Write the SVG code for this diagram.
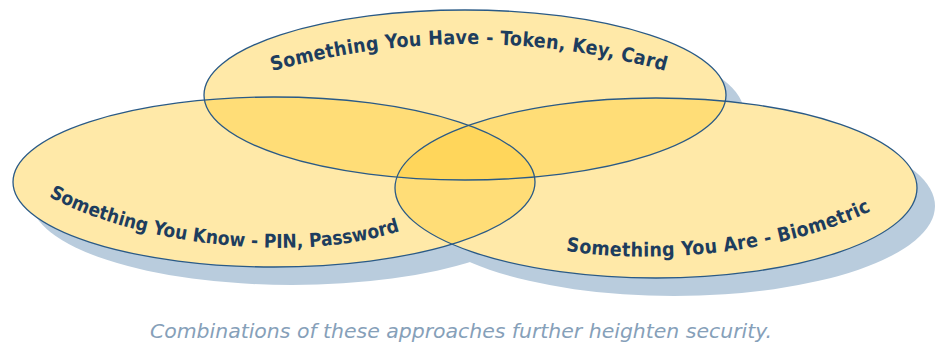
<svg xmlns="http://www.w3.org/2000/svg" width="935" height="347" viewBox="0 0 935 347">
<style>
.sh{fill:#b9ccdd}
.fl{fill:rgb(254,205,56);fill-opacity:0.44}
.st{fill:none;stroke:#2a5a86;stroke-width:1.3}
.lbl{font-family:"Liberation Sans Narrow","DejaVu Sans Condensed",sans-serif;font-size:19px;font-weight:bold;letter-spacing:0.3px;fill:#1d3d5e}
.cap{font-family:"Liberation Sans Narrow","DejaVu Sans Condensed",sans-serif;font-size:20px;font-style:italic;fill:#86a0b9}
</style>
<defs>
<path id="pTop" d="M262,74 Q469,14 676,74"/>
<path id="pLeft" d="M36,189 C120,242 300,270 414,226"/>
<path id="pRight" d="M552,248 C620,264 780,262 884,204"/>
</defs>
<g id="shadows">
<ellipse class="sh" cx="483" cy="113" rx="261" ry="85"/>
<ellipse class="sh" cx="292" cy="200" rx="261" ry="85"/>
<ellipse class="sh" cx="674" cy="206" rx="261" ry="90"/>
</g>
<g id="whitebase">
<ellipse cx="465" cy="95" rx="261" ry="85" fill="#fff"/>
<ellipse cx="274" cy="182" rx="261" ry="85" fill="#fff"/>
<ellipse cx="656" cy="188" rx="261" ry="90" fill="#fff"/>
</g>
<g id="have">
<ellipse class="fl" cx="465" cy="95" rx="261" ry="85"/>
</g>
<g id="know">
<ellipse class="fl" cx="274" cy="182" rx="261" ry="85"/>
</g>
<g id="are">
<ellipse class="fl" cx="656" cy="188" rx="261" ry="90"/>
</g>
<g id="outlines">
<ellipse class="st" cx="465" cy="95" rx="261" ry="85"/>
<ellipse class="st" cx="274" cy="182" rx="261" ry="85"/>
<ellipse class="st" cx="656" cy="188" rx="261" ry="90"/>
</g>
<g id="labels">
<text class="lbl" style="font-size:19.5px"><textPath href="#pTop" startOffset="50%" text-anchor="middle">Something You Have - Token, Key, Card</textPath></text>
<text class="lbl" style="letter-spacing:0px"><textPath href="#pLeft" startOffset="50%" text-anchor="middle">Something You Know - PIN, Password</textPath></text>
<text class="lbl" style="font-size:19.5px"><textPath href="#pRight" startOffset="50%" text-anchor="middle">Something You Are - Biometric</textPath></text>
</g>
<text id="caption" class="cap" x="461" y="338" text-anchor="middle" textLength="622" lengthAdjust="spacingAndGlyphs">Combinations of these approaches further heighten security.</text>
</svg>
